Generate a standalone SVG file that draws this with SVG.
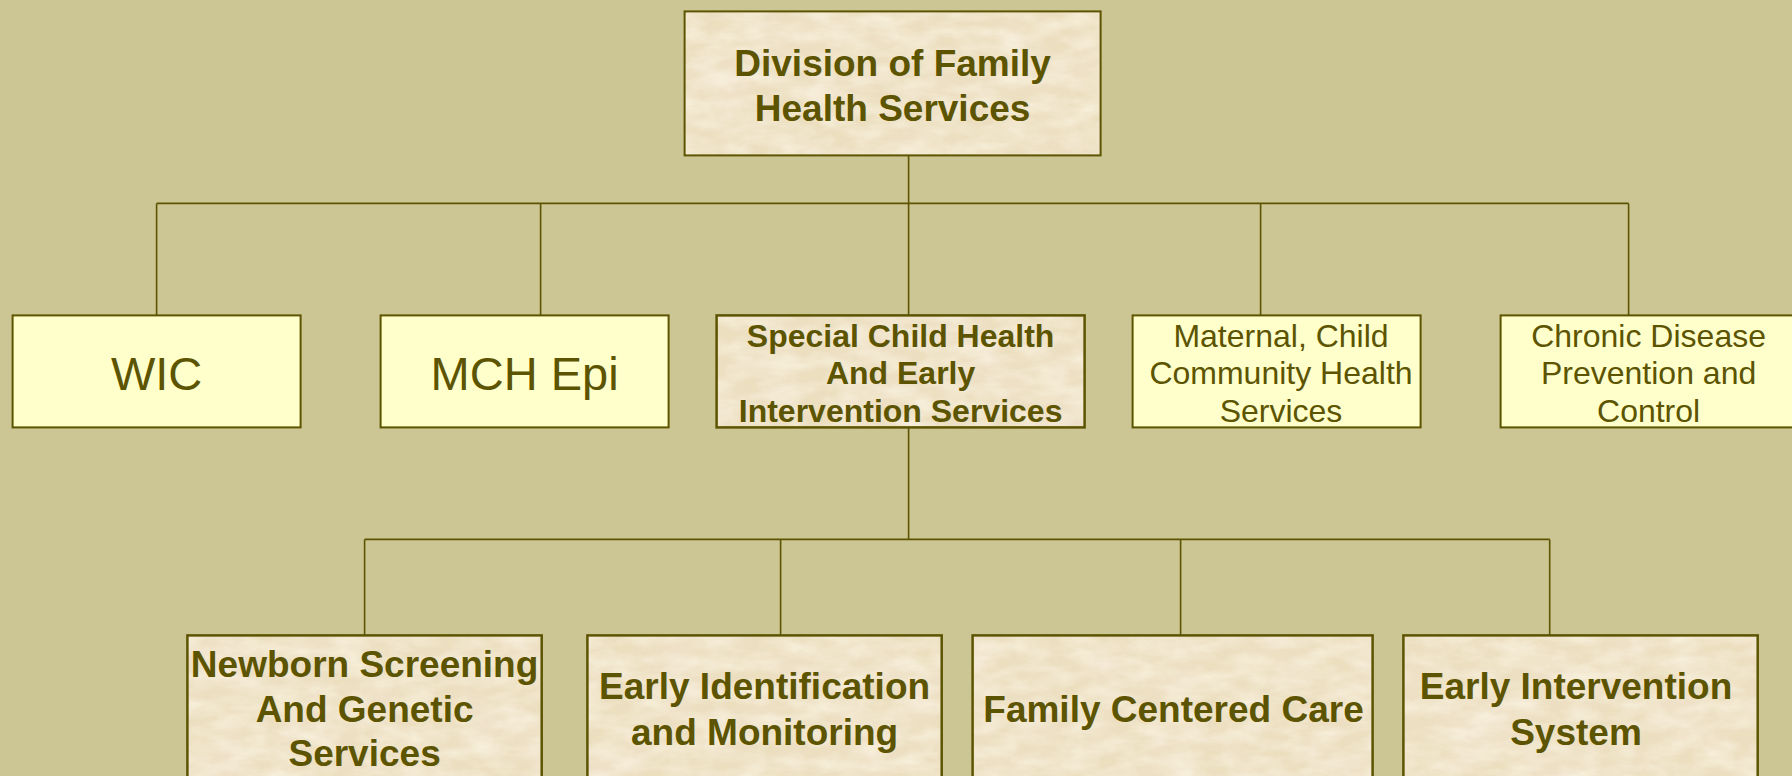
<svg xmlns="http://www.w3.org/2000/svg" width="1792" height="776" viewBox="0 0 1792 776">
<defs>
<filter id="parch" x="0" y="0" width="100%" height="100%">
<feTurbulence type="fractalNoise" baseFrequency="0.03 0.07" numOctaves="4" seed="7" result="n"/>
<feColorMatrix in="n" type="matrix" values="0 0 0 0 0.98  0 0 0 0 0.93  0 0 0 0 0.80  0 0 0 1.1 -0.35" result="c"/>
<feComposite in="c" in2="SourceGraphic" operator="in" result="t"/>
<feTurbulence type="fractalNoise" baseFrequency="0.02" numOctaves="2" seed="2" result="n2"/>
<feColorMatrix in="n2" type="matrix" values="0 0 0 0 0.90  0 0 0 0 0.78  0 0 0 0 0.66  0 0 0 1.2 -0.5" result="c2"/>
<feComposite in="c2" in2="SourceGraphic" operator="in" result="t2"/>
<feMerge><feMergeNode in="SourceGraphic"/><feMergeNode in="t2"/><feMergeNode in="t"/></feMerge>
</filter>
<style>
.bg{fill:#CCC695}
.line{stroke:#5C5400;stroke-width:1.6;fill:none}
.light{fill:#FFFFCC;stroke:#5C5400;stroke-width:2}
.parf{fill:#ECDFC0;filter:url(#parch)}
.pb{fill:none;stroke:#5C5400;stroke-width:2.5}
text{font-family:"Liberation Sans",Arial,sans-serif;fill:#5C5400;text-anchor:middle}
.b37{font-size:37px;font-weight:bold}
.b32{font-size:32px;font-weight:bold}
.r32{font-size:32px}
.r47{font-size:47px}
</style>
</defs>
<rect class="bg" x="0" y="0" width="1792" height="776"/>
<g id="connectors">
<path class="line" d="M908.6 155 V203.4 M156.6 203.4 H1628.6 M156.6 203.4 V315.4 M540.6 203.4 V315.4 M908.6 203.4 V315.4 M1260.6 203.4 V315.4 M1628.6 203.4 V315.4"/>
<path class="line" d="M908.6 427.4 V539.4 M364.6 539.4 H1549.7 M364.6 539.4 V635.4 M780.6 539.4 V635.4 M1180.6 539.4 V635.4 M1549.7 539.4 V635.4"/>
</g>
<g id="division">
<rect class="parf" x="684.6" y="11.4" width="416" height="144"/>
<rect x="684.6" y="11.4" width="416" height="144" fill="none" stroke="#5C5400" stroke-width="2"/>
<text class="b37" x="892.6" y="76">Division of Family</text>
<text class="b37" x="892.6" y="121">Health Services</text>
</g>
<g id="wic">
<rect class="light" x="12.6" y="315.4" width="288" height="112"/>
<text class="r47" x="156.6" y="389.5">WIC</text>
</g>
<g id="mchepi">
<rect class="light" x="380.6" y="315.4" width="288" height="112"/>
<text class="r47" x="524.6" y="389.5">MCH Epi</text>
</g>
<g id="special">
<rect class="parf" x="716.6" y="315.4" width="368" height="112"/>
<rect class="pb" x="716.6" y="315.4" width="368" height="112"/>
<text class="b32" x="900.6" y="346.5">Special Child Health</text>
<text class="b32" x="900.6" y="384">And Early</text>
<text class="b32" x="900.6" y="421.5">Intervention Services</text>
</g>
<g id="maternal">
<rect class="light" x="1132.6" y="315.4" width="288" height="112"/>
<text class="r32" x="1281" y="346.5">Maternal, Child</text>
<text class="r32" x="1281" y="384">Community Health</text>
<text class="r32" x="1281" y="421.5">Services</text>
</g>
<g id="chronic">
<rect class="light" x="1500.6" y="315.4" width="300" height="112"/>
<text class="r32" x="1648.6" y="346.5">Chronic Disease</text>
<text class="r32" x="1648.6" y="384">Prevention and</text>
<text class="r32" x="1648.6" y="421.5">Control</text>
</g>
<g id="newborn">
<rect class="parf" x="187.4" y="635.4" width="354.3" height="160"/>
<rect class="pb" x="187.4" y="635.4" width="354.3" height="160"/>
<text class="b37" x="364.6" y="677">Newborn Screening</text>
<text class="b37" x="364.6" y="722">And Genetic</text>
<text class="b37" x="364.6" y="766">Services</text>
</g>
<g id="earlyid">
<rect class="parf" x="587.4" y="635.4" width="354.3" height="160"/>
<rect class="pb" x="587.4" y="635.4" width="354.3" height="160"/>
<text class="b37" x="764.6" y="699">Early Identification</text>
<text class="b37" x="764.6" y="745">and Monitoring</text>
</g>
<g id="family">
<rect class="parf" x="972.6" y="635.4" width="400" height="160"/>
<rect class="pb" x="972.6" y="635.4" width="400" height="160"/>
<text class="b37" x="1173.5" y="722">Family Centered Care</text>
</g>
<g id="earlyint">
<rect class="parf" x="1403.4" y="635.4" width="354.3" height="160"/>
<rect class="pb" x="1403.4" y="635.4" width="354.3" height="160"/>
<text class="b37" x="1576" y="699">Early Intervention</text>
<text class="b37" x="1576" y="745">System</text>
</g>
</svg>
